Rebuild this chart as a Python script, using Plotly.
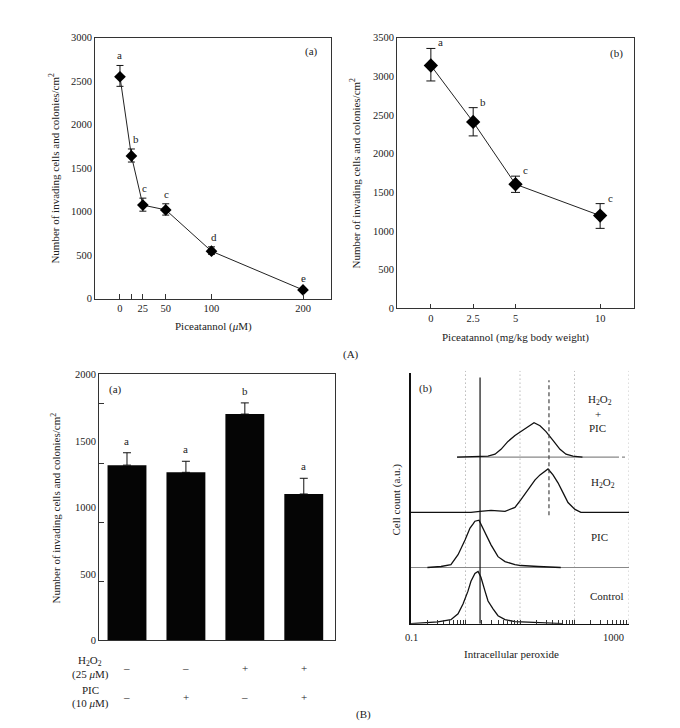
import plotly.graph_objects as go

W, H = 680, 728
FONT = "Liberation Serif"
TXT = "#222"

# ---------------- Panel A(a): dose response in vitro ----------------
conc_a = [0, 12.5, 25, 50, 100, 200]
inv_a = [2550, 1640, 1075, 1020, 545, 100]
hi_a = [2680, 1720, 1155, 1090, 595, 118]
lo_a = [2440, 1570, 1005, 960, 510, 85]
letters_a = ["a", "b", "c", "c", "d", "e"]
xtick_a = [0, 25, 50, 100, 200]
xtext_a = ["0", "25", "50", "100", "200"]
xtick_a_extra = [12.5]
ytick_a = [0, 500, 1000, 1500, 2000, 2500, 3000]

# ---------------- Panel A(b): dose response in vivo ----------------
dose_b = [0, 2.5, 5, 10]
inv_b = [3140, 2410, 1605, 1200]
hi_b = [3360, 2595, 1710, 1355]
lo_b = [2940, 2230, 1500, 1035]
letters_b = ["a", "b", "c", "c"]
xtick_b = [0, 2.5, 5, 10]
xtext_b = ["0", "2.5", "5", "10"]
ytick_b = [0, 500, 1000, 1500, 2000, 2500, 3000, 3500]

# ---------------- Panel B(a): bars ----------------
groups = [0, 1, 2, 3]
bar_vals = [1318, 1264, 1702, 1101]
bar_err = [93, 83, 84, 118]
letters_c = ["a", "a", "b", "a"]
h2o2_signs = ["–", "–", "+", "+"]
pic_signs = ["–", "+", "–", "+"]
ytick_c = [0, 500, 1000, 1500, 2000]
ymark_c = [444, 889, 1333, 1778]

# ---------------- Panel B(b): flow cytometry histograms ----------------
ctrl_int = [0.1, 0.15, 0.22, 0.31, 0.54, 0.73, 0.90, 1.11, 1.26, 1.49, 1.70, 1.92, 2.28, 2.59, 3.20, 3.95, 5.31, 8.09, 14, 21.4, 35, 60]
ctrl_cnt = [0, 0.5, 1, 1.7, 4, 10, 20, 33, 43, 51, 53, 47, 33, 23, 15, 8, 4, 2, 1.5, 1, 0.5, 0]
pic_int = [0.2, 0.355, 0.54, 0.73, 0.98, 1.21, 1.37, 1.49, 1.77, 2.09, 2.38, 2.94, 3.95, 5.31, 8.09, 10.4, 21.4, 56]
pic_cnt = [0, 1, 3, 13, 28, 40, 44, 47, 48, 40, 34, 23, 11, 6, 3, 2, 1, 0]
h2o2_int = [0.1, 1.26, 1.85, 2.94, 5.31, 8.09, 10.4, 14.0, 18.9, 23.3, 28.8, 32.7, 40.3, 49.8, 61.5, 76.0, 102, 131, 1000]
h2o2_cnt = [0, 0, 1, 2, 1, 5, 13, 23, 33, 38, 42, 44, 38, 30, 20, 10, 3, 0, 0]
hp_int = [0.7, 2.59, 3.48, 4.48, 6.02, 8.09, 10.4, 14.0, 18.1, 23.3, 30.0, 40.3, 54.2, 69.8, 93.8, 140]
hp_cnt = [0, 1, 3, 8, 16, 22, 26, 31, 35, 32, 26, 17, 8, 3, 1, 0]
stack_offset = {"Control": 0, "PIC": 57, "H2O2": 113, "H2O2+PIC": 169}
ctrl_mean = 1.85
h2o2_mean = 34
grid_int = [1, 10, 100, 1000]
flow_ticks = [k * d for d in [0.1, 1, 10, 100] for k in range(1, 10)] + [1000]
flow_labels = {0.1: "0.1", 1000: "1000"}


def px(x):
    return x / W


def py(y):
    return 1 - y / H


fig = go.Figure()
ebar = dict(type="data", symmetric=False, color="#111", thickness=1)

# A(a)
fig.add_trace(go.Scatter(
    x=conc_a, y=inv_a, mode="lines+markers", xaxis="x", yaxis="y",
    line=dict(color="#222", width=1),
    marker=dict(symbol="diamond", size=9, color="#000"),
    error_y=dict(ebar, array=[h - v for h, v in zip(hi_a, inv_a)],
                 arrayminus=[v - l for v, l in zip(inv_a, lo_a)], width=3.5),
    showlegend=False))
fig.add_trace(go.Scatter(x=[None], y=[None], xaxis="x5", yaxis="y", showlegend=False))

# A(b)
fig.add_trace(go.Scatter(
    x=dose_b, y=inv_b, mode="lines+markers", xaxis="x2", yaxis="y2",
    line=dict(color="#222", width=1),
    marker=dict(symbol="diamond", size=11, color="#000"),
    error_y=dict(ebar, array=[h - v for h, v in zip(hi_b, inv_b)],
                 arrayminus=[v - l for v, l in zip(inv_b, lo_b)], width=4.5),
    showlegend=False))

# B(a)
fig.add_trace(go.Bar(
    x=groups, y=bar_vals, xaxis="x3", yaxis="y3", width=0.66,
    marker=dict(color="#050505", line=dict(width=0)),
    error_y=dict(type="data", symmetric=False, array=bar_err,
                 arrayminus=[0] * len(bar_err), color="#111", thickness=1, width=4),
    showlegend=False))
fig.add_trace(go.Scatter(x=[None], y=[None], xaxis="x3", yaxis="y5", showlegend=False))

# B(b) baselines
fig.add_trace(go.Scatter(x=[0.1, 1000], y=[stack_offset["PIC"]] * 2, mode="lines",
                         xaxis="x4", yaxis="y4", line=dict(color="#888", width=1.2), showlegend=False))
fig.add_trace(go.Scatter(x=[hp_int[0], 577], y=[stack_offset["H2O2+PIC"]] * 2, mode="lines",
                         xaxis="x4", yaxis="y4", line=dict(color="#888", width=1.2), showlegend=False))
fig.add_trace(go.Scatter(x=[577, 850], y=[stack_offset["H2O2+PIC"]] * 2, mode="lines",
                         xaxis="x4", yaxis="y4", line=dict(color="#888", width=1.2, dash="dot"), showlegend=False))

# B(b) histograms
for xs, ys, key in [(ctrl_int, ctrl_cnt, "Control"), (pic_int, pic_cnt, "PIC"),
                    (h2o2_int, h2o2_cnt, "H2O2"), (hp_int, hp_cnt, "H2O2+PIC")]:
    off = stack_offset[key]
    fig.add_trace(go.Scatter(x=xs, y=[off + v for v in ys], mode="lines", xaxis="x4", yaxis="y4",
                             line=dict(color="#111", width=1.3), showlegend=False))

# reference lines
fig.add_trace(go.Scatter(x=[ctrl_mean, ctrl_mean], y=[0, 250], mode="lines", xaxis="x4", yaxis="y4",
                         line=dict(color="#111", width=1.2), showlegend=False))
fig.add_trace(go.Scatter(x=[h2o2_mean, h2o2_mean], y=[110, 247], mode="lines", xaxis="x4", yaxis="y4",
                         line=dict(color="#444", width=1.2, dash="4px,3px"), showlegend=False))

shapes = []
for g in grid_int:
    shapes.append(dict(type="line", xref="x4", yref="y4 domain", x0=g, x1=g, y0=0, y1=1.01,
                       line=dict(color="#999", width=1, dash="1px,3px"), layer="below"))

tickfont = dict(family=FONT, size=10.5, color=TXT)
axline = dict(showline=True, linecolor="#333", linewidth=1, zeroline=False, showgrid=False)

layout = dict(
    width=W, height=H, margin=dict(l=0, r=0, t=0, b=0),
    paper_bgcolor="white", plot_bgcolor="white",
    font=dict(family=FONT, size=11, color=TXT),
    xaxis=dict(axline, domain=[px(87), px(323)], range=[-27.3, 230.6], mirror=True,
               tickmode="array", tickvals=xtick_a, ticktext=xtext_a, ticks="inside",
               ticklen=5, tickcolor="#333", tickfont=tickfont, anchor="y"),
    xaxis5=dict(domain=[px(87), px(323)], range=[-27.3, 230.6], overlaying="x", anchor="y",
                tickmode="array", tickvals=xtick_a_extra, ticks="inside", ticklen=5,
                tickcolor="#333", showticklabels=False, showgrid=False, zeroline=False,
                showline=False),
    yaxis=dict(axline, domain=[py(290), py(25)], range=[0, 3000], mirror=True,
               tickmode="array", tickvals=ytick_a, ticks="", tickfont=tickfont, anchor="x"),
    xaxis2=dict(axline, domain=[px(389), px(626)], range=[-2, 12], mirror=True,
                tickmode="array", tickvals=xtick_b, ticktext=xtext_b, ticks="inside",
                ticklen=4, tickcolor="#333", tickfont=tickfont, anchor="y2"),
    yaxis2=dict(axline, domain=[py(300), py(25)], range=[0, 3500], mirror=True,
                tickmode="array", tickvals=ytick_b, ticks="", tickfont=tickfont, anchor="x2"),
    xaxis3=dict(axline, domain=[px(91), px(327)], range=[-0.475, 3.53], mirror=True,
                showticklabels=False, ticks="", anchor="y3"),
    yaxis3=dict(axline, domain=[py(637), py(367)], range=[0, 2000], mirror=True,
                tickmode="array", tickvals=ytick_c, ticks="", tickfont=tickfont, anchor="x3"),
    yaxis5=dict(domain=[py(637), py(367)], range=[0, 2000], overlaying="y3", anchor="x3",
                tickmode="array", tickvals=ymark_c, ticks="inside", ticklen=5, tickcolor="#333",
                showticklabels=False, showgrid=False, zeroline=False, showline=False),
    xaxis4=dict(type="log", domain=[px(403), px(621)], range=[-1, 3], showline=True,
                linecolor="#111", linewidth=1.2, zeroline=False, showgrid=False,
                tickmode="array", tickvals=flow_ticks, showticklabels=False,
                ticks="inside", ticklen=4, tickcolor="#333", anchor="y4"),
    yaxis4=dict(domain=[py(620), py(366)], range=[0, 254], showline=True, linecolor="#111",
                linewidth=1.5, zeroline=False, showgrid=False, showticklabels=False,
                ticks="", anchor="x4"),
    shapes=shapes,
)

ann = []


def A(text, x, y, size=11, angle=0, xanchor="center", yanchor="middle", **kw):
    d = dict(text=text, x=x, y=y, xref=kw.pop("xref", "paper"), yref=kw.pop("yref", "paper"),
             showarrow=False, font=dict(family=FONT, size=size, color=TXT), textangle=angle,
             xanchor=xanchor, yanchor=yanchor)
    d.update(kw)
    ann.append(d)


ytitle = "Number of invading cells and colonies/cm<sup>2</sup>"
# A(a)
A(ytitle, px(46), py(158), size=11, angle=-90)
A("Piceatannol (<i>μ</i>M)", px(205), py(318), size=11)
A("(a)", px(303), py(39), size=11)
shift_a = [0, 5, 2, 1, 3, 0]
for xv, hv, lt, s in zip(conc_a, hi_a, letters_a, shift_a):
    A(lt, xv, hv, size=11, xref="x", yref="y", yanchor="bottom", yshift=2, xshift=s)
# A(b)
A(ytitle, px(347), py(163), size=11, angle=-90)
A("Piceatannol (mg/kg body weight)", px(507), py(329), size=11)
A("(b)", px(608), py(41), size=11)
for xv, hv, lt in zip(dose_b, hi_b, letters_b):
    A(lt, xv, hv, size=11, xref="x2", yref="y2", yanchor="bottom", yshift=-2, xshift=10)
A("(A)", px(343), py(347), size=11)

# B(a)
A(ytitle, px(48), py(503), size=11, angle=-90)
A("(a)", px(107), py(382), size=11)
for xv, v, e, lt in zip(groups, bar_vals, bar_err, letters_c):
    A(lt, xv, v + e, size=11, xref="x3", yref="y3", yanchor="bottom", yshift=4)
A("H<sub>2</sub>O<sub>2</sub>", px(82), py(658), size=11)
A("(25 <i>μ</i>M)", px(82), py(672), size=11)
A("PIC", px(82), py(687), size=11)
A("(10 <i>μ</i>M)", px(82), py(701), size=11)
for xv, s1, s2 in zip(groups, h2o2_signs, pic_signs):
    A(s1, xv, py(665), size=11, xref="x3")
    A(s2, xv, py(694), size=11, xref="x3")
A("(B)", px(355), py(712), size=11)

# B(b)
A("(b)", px(417), py(381), size=11)
A("Cell count (a.u.)", px(389), py(494), size=11, angle=-90)
A("Intracellular peroxide", px(503), py(651), size=11)
A(flow_labels[0.1], -1, py(634), size=10.5, xref="x4")
A(flow_labels[1000], 3, py(634), size=10.5, xref="x4", xshift=-16)
A("H<sub>2</sub>O<sub>2</sub>", px(592), py(393), size=11)
A("+", px(590), py(407), size=11)
A("PIC", px(589), py(421), size=11)
A("H<sub>2</sub>O<sub>2</sub>", px(595), py(477), size=11)
A("PIC", px(591), py(532), size=11)
A("Control", px(599), py(592), size=11)

layout["annotations"] = ann
fig.update_layout(**layout)
fig.write_html("out.html")
